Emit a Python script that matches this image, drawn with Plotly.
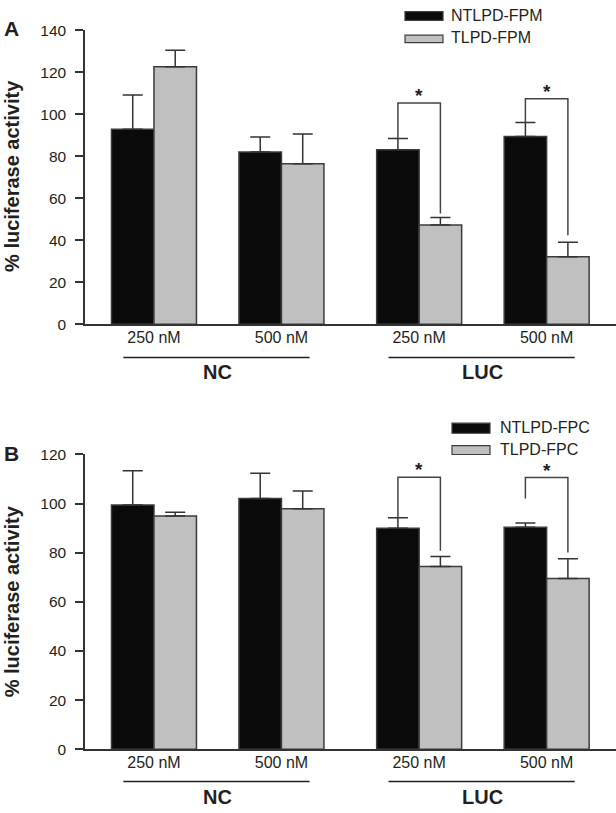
import plotly.graph_objects as go

# ---------------- data ----------------
conc_labels = ["250 nM", "500 nM", "250 nM", "500 nM"]
group_names = ["NC", "LUC"]

# panel A
a_names = ["NTLPD-FPM", "TLPD-FPM"]
a_ntlpd = [92.9, 82.0, 83.1, 89.4]
a_ntlpd_err = [16.3, 7.2, 5.4, 6.7]
a_tlpd = [122.6, 76.4, 47.3, 32.1]
a_tlpd_err = [7.9, 14.2, 3.5, 6.9]
# significance brackets (LUC 250, LUC 500): left foot, top, right foot
a_sig_left = [88.5, 96.1]
a_sig_top = [105.4, 107.4]
a_sig_right = [52.8, 42.4]

# panel B
b_names = ["NTLPD-FPC", "TLPD-FPC"]
b_ntlpd = [99.4, 102.1, 90.0, 90.4]
b_ntlpd_err = [14.0, 10.3, 4.2, 1.7]
b_tlpd = [95.0, 97.9, 74.4, 69.5]
b_tlpd_err = [1.5, 7.2, 4.1, 8.0]
b_sig_left = [94.2, 102.1]
b_sig_top = [110.7, 110.6]
b_sig_right = [80.8, 80.1]

# ---------------- styling ----------------
W, H = 616, 813
FONT = "Liberation Sans, Arial, sans-serif"
TXT = "#231f20"
AX = "#333333"
BLACK = "#0a0a0a"
GREY = "#c0c0c0"
OUTLINE = "#3c3c3c"

xpos = [0, 1, 2.08, 3.08]          # small extra gap between NC and LUC
half = 1 / 6                       # half of one bar width (bargap 1/3)


def px_x(p):
    return p / W


def px_y(p):
    return 1 - p / H


fig = go.Figure()


def add_panel(xa, ya, vals_k, err_k, vals_g, err_g, names,
              sig_l, sig_t, sig_r):
    fig.add_trace(go.Bar(
        x=xpos, y=vals_k, name=names[0], xaxis=xa, yaxis=ya,
        marker=dict(color=BLACK, line=dict(color=OUTLINE, width=1.5)),
        error_y=dict(type="data", symmetric=False, array=err_k,
                     arrayminus=[0] * len(err_k), color=AX,
                     thickness=1.5, width=10),
        showlegend=False, offsetgroup="k"))
    fig.add_trace(go.Bar(
        x=xpos, y=vals_g, name=names[1], xaxis=xa, yaxis=ya,
        marker=dict(color=GREY, line=dict(color=OUTLINE, width=1.5)),
        error_y=dict(type="data", symmetric=False, array=err_g,
                     arrayminus=[0] * len(err_g), color=AX,
                     thickness=1.5, width=10),
        showlegend=False, offsetgroup="g"))
    # significance brackets over the LUC groups
    for i, cx in enumerate(xpos[2:]):
        fig.add_trace(go.Scatter(
            x=[cx - half, cx - half, cx + half, cx + half],
            y=[sig_l[i], sig_t[i], sig_t[i], sig_r[i]],
            mode="lines", line=dict(color="#444444", width=1.5),
            xaxis=xa, yaxis=ya, showlegend=False, hoverinfo="skip"))
        # the asterisk sits high in its line box, so keep the box short
        fig.add_annotation(x=cx, y=sig_t[i], xref=xa, yref=ya, text="<b>*</b>",
                           showarrow=False, xanchor="center", yanchor="middle",
                           height=12, valign="top", yshift=12,
                           font=dict(size=19, color=TXT, family=FONT))


add_panel("x", "y", a_ntlpd, a_ntlpd_err, a_tlpd, a_tlpd_err, a_names,
          a_sig_left, a_sig_top, a_sig_right)
add_panel("x2", "y2", b_ntlpd, b_ntlpd_err, b_tlpd, b_tlpd_err, b_names,
          b_sig_left, b_sig_top, b_sig_right)

xrange = [-0.541, 3.624]
xdom = [px_x(85), 1]
xcommon = dict(range=xrange, domain=xdom, showline=True, linecolor=AX,
               linewidth=1.5, showgrid=False, zeroline=False,
               tickvals=xpos, ticktext=conc_labels, ticks="", ticklen=0,
               ticklabelstandoff=-2,
               tickfont=dict(size=16, color=TXT, family=FONT), fixedrange=True)
ycommon = dict(showline=True, linecolor=AX, linewidth=1.5, showgrid=False,
               zeroline=False, dtick=20, ticks="outside", ticklen=8,
               tickwidth=1.5, tickcolor=AX, ticklabelstandoff=6,
               tickfont=dict(size=15.5, color=TXT, family=FONT))

fig.update_layout(
    width=W, height=H,
    margin=dict(l=0, r=0, t=0, b=0),
    paper_bgcolor="white", plot_bgcolor="white",
    barmode="group", bargap=1 / 3, bargroupgap=0,
    font=dict(family=FONT, color=TXT),
    xaxis=dict(anchor="y", **xcommon),
    yaxis=dict(anchor="x", range=[0, 140],
               domain=[px_y(322), px_y(21.7)], **ycommon),
    xaxis2=dict(anchor="y2", **xcommon),
    yaxis2=dict(anchor="x2", range=[0, 120],
                domain=[px_y(756), px_y(455)], **ycommon),
)


def note(x, y, text, size, xref="paper", yref="paper", **kw):
    opts = dict(xanchor="center", yanchor="middle")
    opts.update(kw)
    fig.add_annotation(x=x, y=y, xref=xref, yref=yref, text=text,
                       showarrow=False,
                       font=dict(size=size, color=TXT, family=FONT), **opts)


# panel letters, y titles
for letter, yc in [("A", 20), ("B", 454)]:
    note(px_x(11), px_y(yc), f"<b>{letter}</b>", 21)
for yc in [170.5, 605]:
    note(px_x(12), px_y(yc), "<b>% luciferase activity</b>", 20,
         textangle=-90)

# group lines and names under the concentration labels
for xa, line_y, name_y in [("x", 356, 371), ("x2", 789, 805)]:
    for gi, gname in enumerate(group_names):
        x0, x1 = xpos[2 * gi], xpos[2 * gi + 1]
        fig.add_shape(type="line", xref=xa, yref="paper",
                      x0=x0 - 0.24, x1=x1 + 0.22,
                      y0=px_y(line_y), y1=px_y(line_y),
                      line=dict(color=TXT, width=1.5))
        note((x0 + x1) / 2, px_y(name_y), f"<b>{gname}</b>", 20, xref=xa)

# hand-placed legends
legends = [
    (a_names, 405, 443, [(2.7, 11.7), (26.7, 34.3)], 449),
    (b_names, 452, 490, [(423, 433.3), (446, 455)], 498),
]
for names, lx0, lx1, rows, tx in legends:
    for (ry0, ry1), nm, col in zip(rows, names, [BLACK, GREY]):
        fig.add_shape(type="rect", xref="paper", yref="paper",
                      x0=px_x(lx0), x1=px_x(lx1),
                      y0=px_y(ry1), y1=px_y(ry0),
                      fillcolor=col, line=dict(color=OUTLINE, width=1.2))
        note(px_x(tx), px_y((ry0 + ry1) / 2 - 1), nm, 16, xanchor="left")

# the page body has a default 8px margin; drop it so the figure sits at 0,0
fig.write_html("out.html", config={"displayModeBar": False},
               post_script="document.body.style.margin='0';")
